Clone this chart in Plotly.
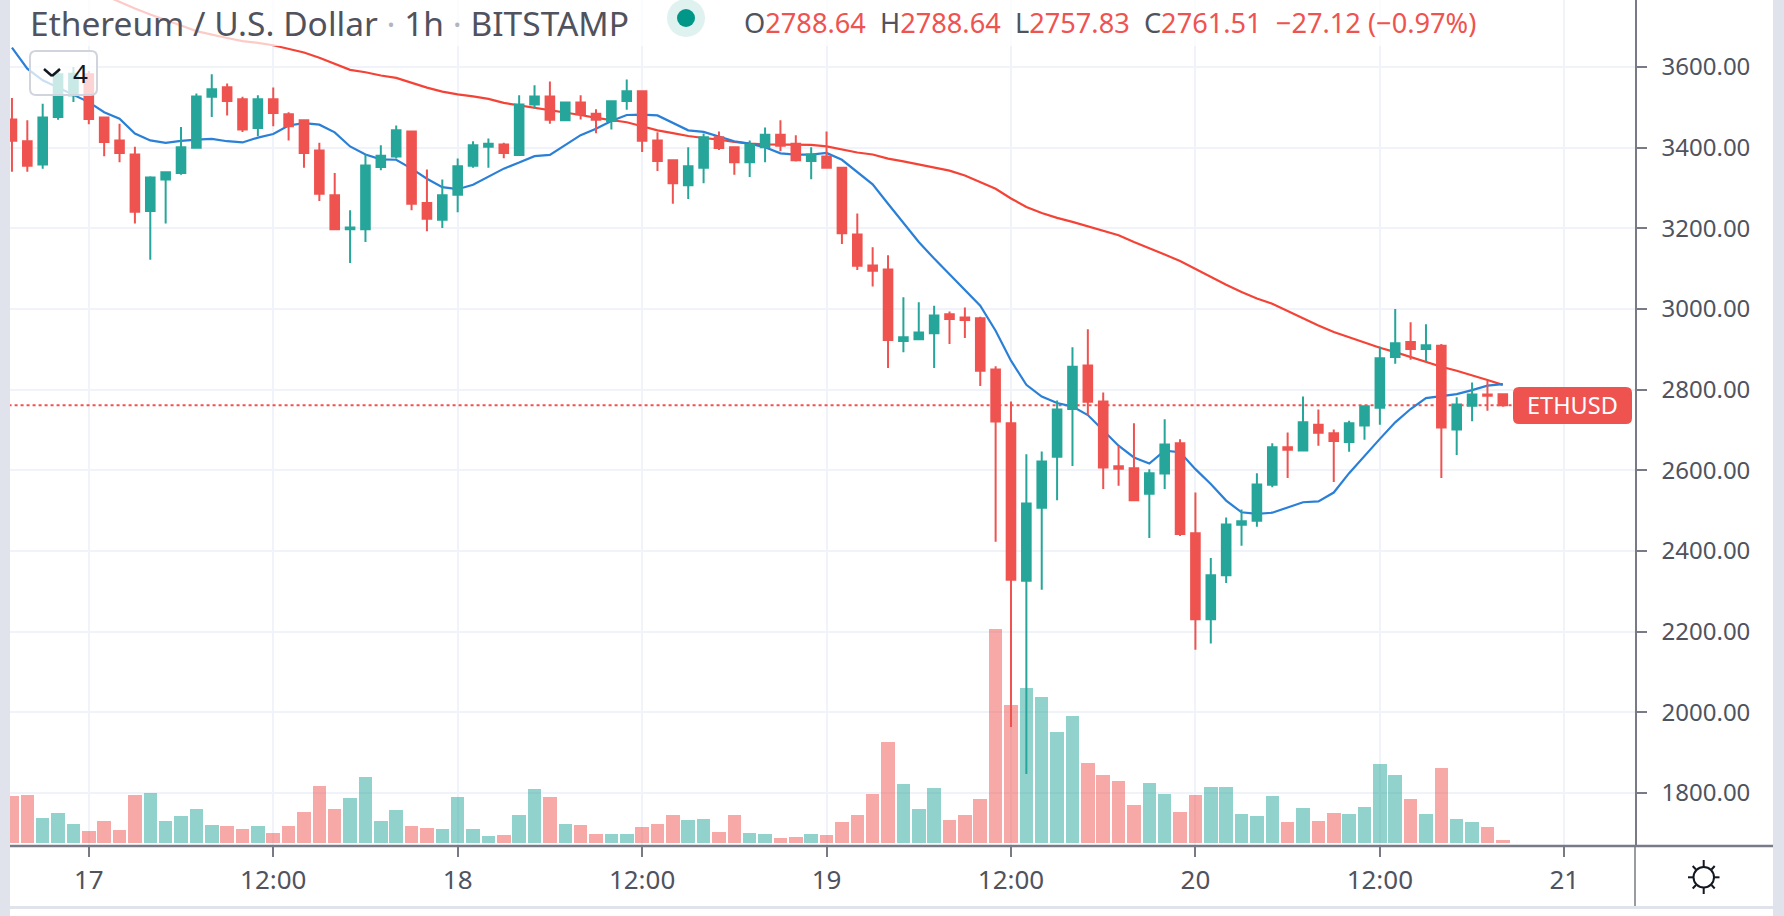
import plotly.graph_objects as go

W, H = 1784, 916
hours = list(range(-5, 93))
opens = [3470,3416,3358,3476,3530,3582,3475,3418,3383,3243,3321,3337,3400,3526,3550,3520,3449,3520,3483,3468,
         3393,3282,3198,3198,3352,3378,3440,3263,3221,3283,3355,3402,3408,3382,3507,3527,3468,3512,3484,3466,
         3516,3540,3418,3369,3307,3350,3426,3401,3364,3401,3432,3410,3367,3378,3350,3185,3108,3098,2921,2925,
         2940,2987,2979,2977,2850,2717,2326,2507,2634,2752,2860,2771,2610,2605,2542,2592,2667,2444,2231,2340,
         2465,2475,2564,2657,2649,2713,2692,2670,2711,2755,2881,2918,2901,2909,2701,2760,2788,2788.64]
highs = [3523,3468,3509,3596,3600,3590,3476,3459,3402,3329,3339,3451,3534,3582,3559,3526,3530,3549,3488,3468,
         3412,3337,3245,3383,3406,3455,3440,3346,3321,3373,3416,3423,3412,3530,3555,3564,3512,3530,3495,3515,
         3569,3542,3438,3369,3401,3435,3440,3401,3418,3450,3468,3431,3401,3440,3352,3237,3153,3133,3029,3017,
         3008,2994,3004,2981,2858,2771,2640,2647,2773,2905,2950,2793,2661,2717,2603,2727,2677,2545,2383,2483,
         2503,2593,2667,2694,2783,2751,2701,2723,2759,2907,3000,2967,2962,2913,2781,2818,2822,2788.64]
lows = [3340,3340,3348,3469,3513,3458,3379,3364,3212,3122,3212,3333,3400,3476,3480,3439,3429,3453,3418,3350,
        3268,3197,3114,3166,3344,3373,3245,3193,3201,3240,3350,3350,3374,3382,3497,3459,3466,3470,3436,3445,
        3494,3389,3342,3261,3273,3312,3394,3333,3327,3364,3391,3366,3322,3350,3161,3097,3056,2854,2893,2923,
        2854,2913,2928,2809,2423,1964,1847,2304,2526,2611,2736,2554,2562,2526,2432,2554,2437,2155,2171,2321,
        2413,2460,2558,2581,2649,2661,2571,2646,2676,2713,2864,2874,2869,2581,2638,2722,2748,2757.83]
closes = [3417,3355,3475,3582,3583,3471,3414,3387,3241,3326,3339,3401,3527,3545,3516,3445,3520,3486,3453,3387,
          3286,3198,3202,3356,3380,3443,3261,3224,3282,3354,3406,3410,3387,3507,3527,3469,3512,3483,3469,3515,
          3540,3417,3367,3312,3354,3426,3399,3364,3407,3432,3405,3369,3383,3350,3188,3107,3095,2923,2930,2942,
          2984,2975,2973,2847,2721,2329,2518,2622,2751,2857,2770,2607,2604,2526,2593,2664,2442,2231,2340,2466,
          2474,2565,2657,2651,2719,2693,2673,2717,2759,2878,2915,2901,2910,2706,2763,2788,2785,2761.51]
volumes = [141,144,75,90,57,36,66,39,144,150,66,81,102,54,51,42,51,30,51,93,
           171,102,135,198,66,99,51,45,42,138,42,21,24,84,162,138,57,54,27,27,
           27,48,57,84,69,72,33,84,30,27,15,18,27,24,63,84,147,303,177,102,
           165,69,84,132,642,414,465,438,333,381,240,204,186,114,180,147,93,144,168,168,
           87,81,141,63,105,66,90,87,108,237,204,132,87,225,72,63,48,9]
ma_fast = [3648,3596,3567,3549,3531,3513,3488,3472,3435,3418,3412,3417,3420,3422,3416,3413,3425,3434,3455,3461,
           3457,3438,3403,3383,3371,3370,3348,3323,3302,3297,3308,3327,3348,3363,3379,3382,3406,3431,3447,3466,
           3481,3482,3480,3461,3443,3439,3428,3416,3410,3401,3386,3383,3383,3387,3370,3340,3309,3261,3213,3166,
           3125,3086,3046,3008,2946,2872,2812,2783,2767,2758,2737,2698,2661,2632,2617,2649,2645,2603,2566,2525,
           2496,2492,2495,2508,2521,2523,2545,2593,2636,2678,2719,2752,2779,2784,2789,2799,2810,2814]
ma_slow = [None,None,None,None,None,None,3778,3761,3745,3730,3717,3703,3689,3680,3672,3664,3660,3654,3645,3636,
           3623,3608,3593,3587,3579,3573,3561,3549,3539,3532,3527,3521,3511,3505,3500,3494,3488,3481,3474,3469,
           3463,3453,3443,3436,3429,3424,3420,3414,3410,3408,3408,3408,3407,3403,3396,3388,3383,3373,3366,3358,
           3351,3343,3331,3315,3298,3274,3253,3238,3226,3216,3205,3194,3183,3166,3151,3135,3119,3099,3078,3060,
           3042,3026,3013,2994,2977,2959,2943,2930,2917,2904,2893,2881,2869,2857,2847,2836,2824,2812]
price_ticks = [1800,2000,2200,2400,2600,2800,3000,3200,3400,3600]
time_ticks = [0,12,24,36,48,60,72,84,96]
time_labels = ["17","12:00","18","12:00","19","12:00","20","12:00","21"]

UP, DOWN = "#26a69a", "#ef5350"
GRID, AXIS, TXT = "#f0f3fa", "#787b86", "#50535e"
EDGE = "#e0e3eb"
FONT = "Noto Sans"
PRICE_RANGE = [1668.7, 3766.1]

px = lambda v: v / W
py = lambda v: 1 - v / H

def rrect(x0, y0, x1, y1, r):
    a, b, c, d = px(x0), px(x1), py(y0), py(y1)
    rx, ry = r / W, r / H
    return (f"M{a+rx},{c} L{b-rx},{c} Q{b},{c} {b},{c-ry} L{b},{d+ry} Q{b},{d} {b-rx},{d} "
            f"L{a+rx},{d} Q{a},{d} {a},{d+ry} L{a},{c-ry} Q{a},{c} {a+rx},{c} Z")

def rect(x0, y0, x1, y1, **k):
    return dict(type="rect", xref="paper", yref="paper", x0=px(x0), x1=px(x1), y0=py(y0), y1=py(y1), **k)

def seg(x0, y0, x1, y1, color, width):
    return dict(type="line", xref="paper", yref="paper", x0=px(x0), x1=px(x1), y0=py(y0), y1=py(y1),
                line=dict(color=color, width=width))

fig = go.Figure()
fig.add_bar(x=hours, y=volumes, yaxis="y", width=0.88,
            marker=dict(color=[("rgba(38,166,154,0.5)" if c >= o else "rgba(239,83,80,0.5)") for o, c in zip(opens, closes)],
                        line_width=0), showlegend=False)
fig.add_scatter(x=[hours[0] - 1, hours[-1] + 0.66], y=[closes[-1], closes[-1]], yaxis="y2", mode="lines",
                line=dict(color=DOWN, width=2, dash="dot"), showlegend=False)
fig.add_scatter(x=hours, y=ma_slow, yaxis="y2", mode="lines", line=dict(color="#f44336", width=2.2), showlegend=False)
fig.add_scatter(x=hours, y=ma_fast, yaxis="y2", mode="lines", line=dict(color="#2a7fd6", width=2.2), showlegend=False)
fig.add_trace(go.Candlestick(x=hours, open=opens, high=highs, low=lows, close=closes, yaxis="y3",
                             whiskerwidth=0, showlegend=False,
                             increasing=dict(line=dict(color=UP, width=2), fillcolor=UP),
                             decreasing=dict(line=dict(color=DOWN, width=2), fillcolor=DOWN)))

S = "#131722"
shapes = [
    rect(10, 0, 1482, 46, fillcolor="rgba(255,255,255,0.72)", line_width=0),
    rect(0, 0, 10, H, fillcolor=EDGE, line_width=0),
    rect(1773, 0, W, H, fillcolor=EDGE, line_width=0),
    rect(10, 906, 1773, 909, fillcolor=EDGE, line_width=0),
    seg(10, 846, 1773, 846, AXIS, 2.5),
    seg(1635, 846, 1635, 906, AXIS, 1.5),
    dict(type="path", xref="paper", yref="paper", path=rrect(1513, 387, 1632, 424, 6), fillcolor=DOWN, line_width=0),
    dict(type="path", xref="paper", yref="paper", path=rrect(30, 51, 97, 95, 6),
         fillcolor="rgba(255,255,255,0.75)", line=dict(color="#d1d4dc", width=2)),
    seg(44, 69, 52, 76, S, 2.5), seg(52, 76, 60, 69, S, 2.5),
    dict(type="circle", xref="paper", yref="paper", x0=px(667), x1=px(705), y0=py(-1), y1=py(37), fillcolor="#dff2ef", line_width=0),
    dict(type="circle", xref="paper", yref="paper", x0=px(677), x1=px(695), y0=py(9), y1=py(27), fillcolor="#009688", line_width=0),
    # sun icon
    dict(type="circle", xref="paper", yref="paper", x0=px(1693.5), x1=px(1714), y0=py(867), y1=py(887.5),
         fillcolor="white", line=dict(color=S, width=2)),
    seg(1703.7, 860, 1703.7, 867, S, 2), seg(1703.7, 887.5, 1703.7, 894, S, 2),
    seg(1688, 877.3, 1693.5, 877.3, S, 2), seg(1714, 877.3, 1719.5, 877.3, S, 2),
    seg(1692.7, 866, 1696, 869.5, S, 2), seg(1714.7, 866, 1711.5, 869.5, S, 2),
    seg(1692.7, 888.5, 1696, 885, S, 2), seg(1714.7, 888.5, 1711.5, 885, S, 2),
]

red = lambda s: f'<span style="color:{DOWN}">{s}</span>'
dim = lambda s: f'<span style="color:#b2b5be">{s}</span>'
ohlc = (f"O{red('2788.64')}  H{red('2788.64')}  L{red('2757.83')}  C{red('2761.51')}  {red('−27.12 (−0.97%)')}")
annotations = [
    dict(xref="paper", yref="paper", x=px(28), y=py(23), xanchor="left", yanchor="middle", showarrow=False,
         text=f"Ethereum / U.S. Dollar {dim('·')} 1h {dim('·')} BITSTAMP", font=dict(family=FONT, size=33.5, color=TXT)),
    dict(xref="paper", yref="paper", x=px(742), y=py(22), xanchor="left", yanchor="middle", showarrow=False,
         text=ohlc, font=dict(family=FONT, size=27.2, color=TXT)),
    dict(xref="paper", yref="paper", x=px(80), y=py(73), xanchor="center", yanchor="middle", showarrow=False,
         text="4", font=dict(family=FONT, size=26, color=S)),
    dict(xref="paper", yref="y2", x=px(1572), y=closes[-1], xanchor="center", yanchor="middle", showarrow=False,
         text="ETHUSD", font=dict(family=FONT, size=23.5, color="white")),
]

fig.update_layout(
    width=W, height=H, margin=dict(l=0, r=0, t=0, b=0), autosize=False,
    paper_bgcolor="white", plot_bgcolor="white", bargap=0, boxgap=0.2, hovermode=False,
    font=dict(family=FONT, color=TXT), shapes=shapes, annotations=annotations,
    xaxis=dict(domain=[px(10), px(1635)], range=[-5.127, 100.6], tickmode="array", tickvals=time_ticks, ticktext=time_labels,
               showgrid=True, gridcolor=GRID, gridwidth=1.5, zeroline=False, showline=False,
               ticks="outside", ticklen=10, tickcolor=AXIS, tickwidth=1.5, ticklabelstandoff=1,
               tickfont=dict(size=26, color=TXT, family=FONT), rangeslider=dict(visible=False)),
    yaxis=dict(domain=[1 - 846 / H, 1], range=[-9, 2529], visible=False, fixedrange=True),
    yaxis2=dict(domain=[1 - 846 / H, 1], range=PRICE_RANGE, overlaying="y", anchor="x", side="right",
                tickmode="array", tickvals=price_ticks, tickformat=".2f",
                showgrid=True, gridcolor=GRID, gridwidth=1.5, zeroline=False, showline=True, linecolor=AXIS, linewidth=1.5,
                ticks="outside", ticklen=10, tickcolor=AXIS, tickwidth=1.5, ticklabelstandoff=10,
                tickfont=dict(size=24, color=TXT, family=FONT)),
    yaxis3=dict(domain=[1 - 846 / H, 1], range=PRICE_RANGE, overlaying="y", anchor="x", visible=False),
)
fig.write_html("out.html", config=dict(displayModeBar=False),
               post_script="document.body.style.margin='0';document.body.style.overflow='hidden';")
